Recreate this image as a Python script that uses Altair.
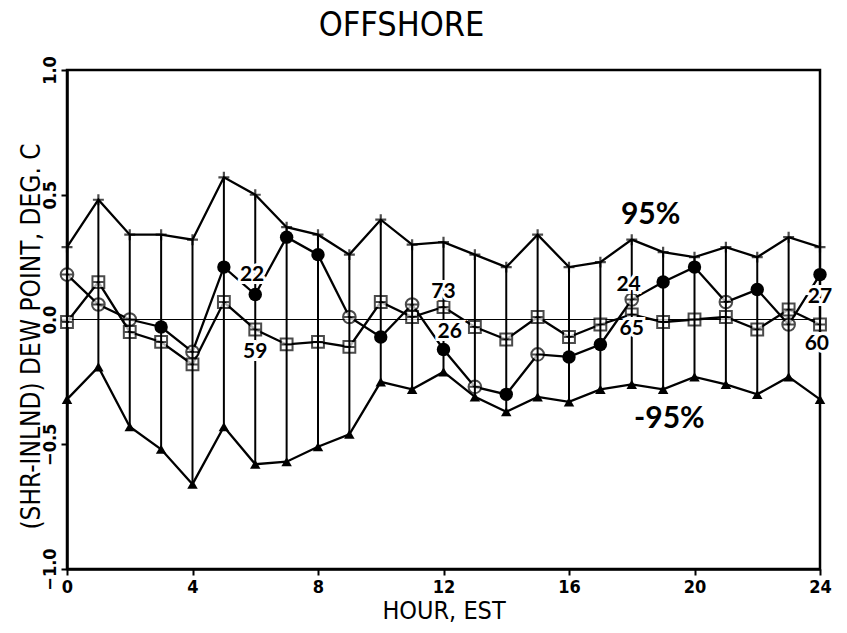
import altair as alt
import pandas as pd

hours = list(range(25))
upper95 = [0.29, 0.48, 0.34, 0.34, 0.32, 0.57, 0.50, 0.37, 0.34, 0.26, 0.40, 0.30, 0.31,
           0.26, 0.21, 0.34, 0.21, 0.23, 0.32, 0.27, 0.25, 0.29, 0.25, 0.33, 0.29]
lower95 = [-0.32, -0.19, -0.43, -0.52, -0.66, -0.43, -0.58, -0.57, -0.51, -0.46, -0.25, -0.28, -0.21,
           -0.31, -0.37, -0.31, -0.33, -0.28, -0.26, -0.28, -0.23, -0.26, -0.30, -0.23, -0.32]
circle_series = [0.18, 0.06, 0.00, -0.03, -0.13, 0.21, 0.10, 0.33, 0.26, 0.01, -0.07, 0.06, -0.12,
                 -0.27, -0.30, -0.14, -0.15, -0.10, 0.08, 0.15, 0.21, 0.07, 0.12, -0.02, 0.18]
circle_filled = [False, False, False, True, False, True, True, True, True, False, True, False, True,
                 False, True, False, True, True, False, True, True, False, True, False, True]
square_series = [-0.01, 0.15, -0.05, -0.09, -0.18, 0.07, -0.04, -0.10, -0.09, -0.11, 0.07, 0.01, 0.05,
                 -0.03, -0.08, 0.01, -0.07, -0.02, 0.02, -0.01, 0.00, 0.01, -0.04, 0.04, -0.02]

count_labels = ["22", "59", "73", "26", "24", "65", "27", "60"]
count_hour = [5.9, 6.0, 12.0, 12.2, 17.9, 18.0, 24.0, 23.9]
count_value = [0.18, -0.13, 0.11, -0.05, 0.14, -0.04, 0.09, -0.10]

band_labels = ["95%", "-95%"]
band_hour = [18.6, 19.2]
band_value = [0.42, -0.40]

x_ticks = [0, 4, 8, 12, 16, 20, 24]
y_ticks = [-1.0, -0.5, 0.0, 0.5, 1.0]

PLOT_FONT = "Liberation Sans Narrow, DejaVu Sans Condensed, sans-serif"
LABEL_FONT = "Lato, Open Sans, sans-serif"

df = pd.DataFrame({
    "hour": hours,
    "upper": upper95,
    "lower": lower95,
    "circle": circle_series,
    "filled": circle_filled,
    "square": square_series,
})
df_lab = pd.DataFrame({"hour": count_hour, "value": count_value, "text": count_labels})
df_band = pd.DataFrame({"hour": band_hour, "value": band_value, "text": band_labels})
df_zero = pd.DataFrame({"value": [0.0]})

xscale = alt.Scale(domain=[0, 24], nice=False, zero=False)
yscale = alt.Scale(domain=[-1, 1], nice=False)

xenc = alt.X("hour:Q", scale=xscale, axis=alt.Axis(
    values=x_ticks, title="HOUR, EST", grid=False, format="d",
    labelFont=PLOT_FONT, labelFontSize=18, labelFontWeight="bold", labelColor="black",
    titleFont=PLOT_FONT, titleFontSize=25, titleFontWeight="normal", titleColor="black",
    domainColor="black", domainWidth=2.5, tickColor="black", tickWidth=2, tickSize=6,
    labelPadding=3, titlePadding=2, labelFlush=False))

PLUS = "M-1,0H1M0,-1V1"
SQUARE_PLUS = "M-1,-1H1V1H-1Z M-1,0H1 M0,-1V1"
CIRCLE_PLUS = "M1,0A1,1 0 1,1 -1,0A1,1 0 1,1 1,0Z M-1,0H1 M0,-1V1"

base = alt.Chart(df)

rules = base.mark_rule(color="black", strokeWidth=2).encode(
    x=xenc,
    y=alt.Y("lower:Q", scale=yscale, axis=alt.Axis(
        values=y_ticks, format=".1f", title="(SHR-INLND) DEW POINT, DEG. C", grid=False,
        labelAngle=270, labelFont=PLOT_FONT, labelFontSize=18, labelFontWeight="bold",
        labelColor="black", labelPadding=2,
        titleFont=PLOT_FONT, titleFontSize=26, titleFontWeight="normal", titleColor="black",
        titleAngle=270, titleX=-36, titleY=266, titleAlign="center", titleBaseline="middle",
        domainColor="black", domainWidth=2.5, tickColor="black", tickWidth=2, tickSize=6,
        labelFlush=False)),
    y2="upper:Q",
)

zero = alt.Chart(df_zero).mark_rule(color="black", strokeWidth=1.2).encode(
    y=alt.Y("value:Q", scale=yscale))

def line(field):
    return base.mark_line(color="black", strokeWidth=2.3).encode(
        x=alt.X("hour:Q", scale=xscale), y=alt.Y(f"{field}:Q", scale=yscale))

upper_pts = base.mark_point(shape=PLUS, size=120, color="black", strokeWidth=2.2, filled=False).encode(
    x=alt.X("hour:Q", scale=xscale), y=alt.Y("upper:Q", scale=yscale))
lower_pts = base.mark_point(shape="triangle-up", size=110, color="black", filled=True, opacity=1).encode(
    x=alt.X("hour:Q", scale=xscale), y=alt.Y("lower:Q", scale=yscale))
square_pts = base.mark_point(shape=SQUARE_PLUS, size=140, color="black", fill="white",
                             strokeWidth=2, filled=False).encode(
    x=alt.X("hour:Q", scale=xscale), y=alt.Y("square:Q", scale=yscale))
circ_open = base.transform_filter("!datum.filled").mark_point(
    shape=CIRCLE_PLUS, size=160, color="black", fill="white", strokeWidth=2, filled=False).encode(
    x=alt.X("hour:Q", scale=xscale), y=alt.Y("circle:Q", scale=yscale))
circ_full = base.transform_filter("datum.filled").mark_point(
    shape="circle", size=180, color="black", filled=True, opacity=1).encode(
    x=alt.X("hour:Q", scale=xscale), y=alt.Y("circle:Q", scale=yscale))

lab_enc = dict(x=alt.X("hour:Q", scale=xscale), y=alt.Y("value:Q", scale=yscale), text="text:N")
lab_halo = alt.Chart(df_lab).mark_text(font=LABEL_FONT, fontSize=21, fontWeight="bold",
                                       color="white", stroke="white", strokeWidth=6).encode(**lab_enc)
lab_text = alt.Chart(df_lab).mark_text(font=LABEL_FONT, fontSize=21, fontWeight="bold",
                                       color="black").encode(**lab_enc)
band_text = alt.Chart(df_band).mark_text(font=LABEL_FONT, fontSize=30, fontWeight="bold",
                                         color="black").encode(**lab_enc)

chart = alt.layer(
    rules, zero, line("upper"), line("lower"), line("square"), line("circle"),
    upper_pts, lower_pts, square_pts, circ_open, circ_full,
    lab_halo, lab_text, band_text,
).properties(
    width=753, height=499,
    title=alt.TitleParams("OFFSHORE", font=PLOT_FONT, fontSize=34, fontWeight="normal",
                          color="black", anchor="middle", dx=-42, offset=13),
    autosize=alt.AutoSizeParams(type="none"),
    padding={"left": 67, "top": 70, "right": 27, "bottom": 64},
    background="white",
).configure_view(stroke="black", strokeWidth=2.5)

chart.save("out.html", embed_options={"renderer": "svg", "actions": False})
